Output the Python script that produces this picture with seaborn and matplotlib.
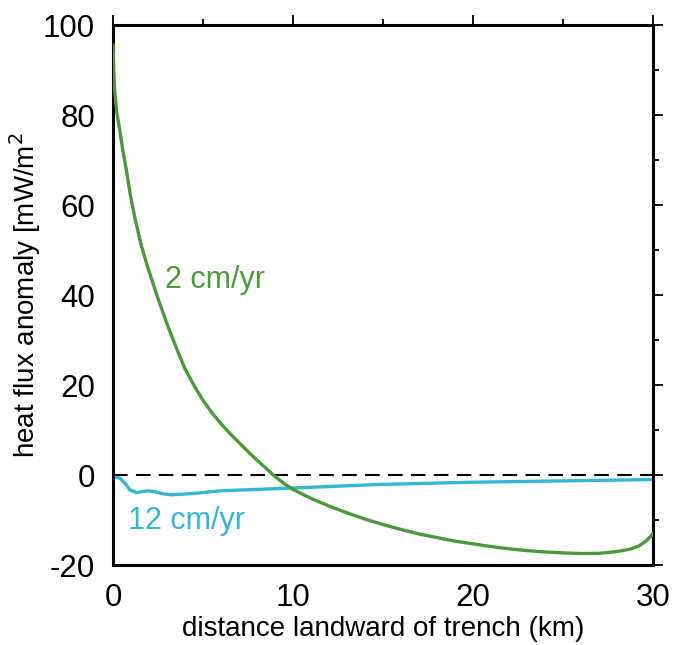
import numpy as np
import pandas as pd
import matplotlib
matplotlib.use("Agg")
import matplotlib.pyplot as plt
import seaborn as sns
from matplotlib.ticker import MultipleLocator

# 2 cm/yr curve
x_slow = [0.0, 0.04, 0.09, 0.2, 0.37, 0.55, 0.74, 0.95, 1.2, 1.55, 1.94, 2.5, 3.0, 3.5,
          4.0, 4.5, 5.0, 5.5, 6.0, 6.5, 7.0, 7.5, 8.0, 8.5, 8.9, 9.5, 10.0, 11.0, 12.0,
          13.0, 14.0, 15.0, 16.0, 17.0, 18.0, 19.0, 20.0, 21.0, 22.0, 23.0, 24.0, 25.0,
          26.0, 27.0, 28.0, 28.7, 29.2, 29.6, 29.9, 30.0]
y_slow = [95.6, 90.0, 85.6, 80.8, 76.7, 72.0, 67.8, 62.5, 57.4, 51.3, 46.0, 39.2, 33.6, 28.4,
          23.6, 19.9, 16.6, 13.8, 11.4, 9.2, 7.2, 5.2, 3.3, 1.5, 0.0, -1.9, -3.2, -5.2, -6.9,
          -8.4, -9.8, -11.0, -12.1, -13.1, -13.9, -14.7, -15.3, -15.9, -16.4, -16.8, -17.1, -17.3,
          -17.45, -17.4, -17.0, -16.5, -15.8, -14.7, -13.5, -12.9]

# 12 cm/yr curve
x_fast = [0.0, 0.39, 0.7, 0.94, 1.3, 1.96, 2.3, 2.8, 3.26, 4.5, 6.0, 9.28, 14.8, 20.0, 25.0, 30.0]
y_fast = [-0.4, -0.7, -2.0, -3.3, -3.9, -3.5, -3.7, -4.2, -4.4, -4.1, -3.5, -3.0, -2.1, -1.6, -1.3, -1.0]

green = "#4a9a3b"
cyan = "#35b6d4"

sns.set_style("white")
plt.rcParams['font.family'] = ['Liberation Sans', 'DejaVu Sans']
plt.rcParams['axes.unicode_minus'] = False

fig = plt.figure(figsize=(6.76, 6.45), dpi=100)
ax = fig.add_axes([0.1672, 0.124, 0.966 - 0.1672, 0.9612 - 0.124])

df_slow = pd.DataFrame({"x": x_slow, "y": y_slow})
df_fast = pd.DataFrame({"x": x_fast, "y": y_fast})

ax.axhline(0, color="black", lw=1.5, dashes=(7, 4), zorder=1)
sns.lineplot(data=df_slow, x="x", y="y", ax=ax, color=green, lw=2.4, sort=False, zorder=3)
sns.lineplot(data=df_fast, x="x", y="y", ax=ax, color=cyan, lw=2.4, sort=False, zorder=2)

ax.text(2.9, 43.3, "2 cm/yr", color=green, fontsize=22, ha="left", va="center")
ax.text(0.83, -10.2, "12 cm/yr", color=cyan, fontsize=22, ha="left", va="center")

ax.set_xlim(0, 30)
ax.set_ylim(-20, 100)
ax.xaxis.set_major_locator(MultipleLocator(10))
ax.xaxis.set_minor_locator(MultipleLocator(5))
ax.yaxis.set_major_locator(MultipleLocator(20))
ax.yaxis.set_minor_locator(MultipleLocator(10))
ax.tick_params(which="both", direction="out", top=True, right=True, width=1.3,
               color="black", labelcolor="black")
ax.tick_params(which="major", length=7, labelsize=22.5, pad=6)
ax.tick_params(which="minor", length=4)
for s in ax.spines.values():
    s.set_color("black")
    s.set_linewidth(2.2)

ax.set_xlabel("distance landward of trench (km)", fontsize=20, labelpad=2, color="black")
ax.set_ylabel("heat flux anomaly [mW/m$^2$", fontsize=20, labelpad=0, color="black")

fig.savefig("out.png", dpi=100)
